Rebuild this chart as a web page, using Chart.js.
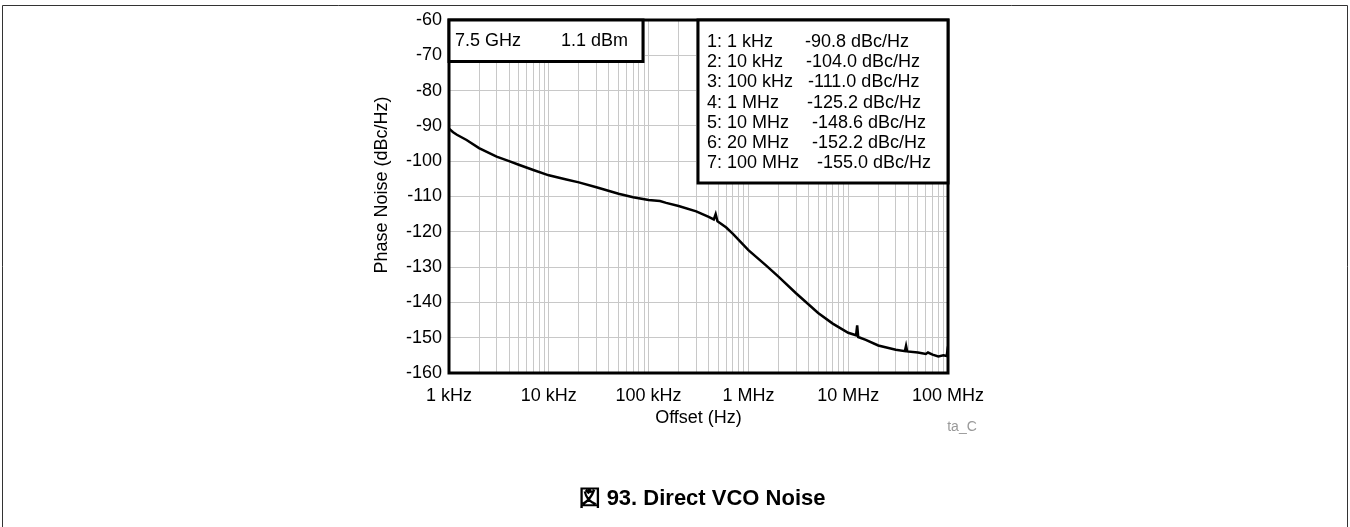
<!DOCTYPE html>
<html>
<head>
<meta charset="utf-8">
<script src="https://cdn.jsdelivr.net/npm/chart.js@4"></script>
<style>
  html, body { margin: 0; padding: 0; background: #fff; }
  canvas { display: block; }
</style>
</head>
<body>
<canvas id="noiseChart" width="1350" height="527"></canvas>
<script>
// offset frequency (Hz) and phase noise (dBc/Hz)
const offsetHz = [
    1000, 1100, 1200, 1500, 2000, 3000, 4000, 5000, 7000, 10000,
    15000, 20000, 30000, 50000, 70000, 100000, 130000, 150000, 200000, 300000,
    400000, 450000, 470000, 490000, 600000, 700000, 1000000, 1500000, 2000000, 3000000,
    5000000, 7000000, 10000000, 12000000, 12300000, 12600000, 15000000, 20000000, 30000000, 37000000,
    38000000, 39000000, 50000000, 60000000, 63000000, 70000000, 80000000, 90000000, 97000000, 100000000
];
const phaseNoise = [
    -90.8, -91.8, -92.5, -94.0, -96.3, -98.7, -100.0, -101.0, -102.5, -104.0,
    -105.2, -106.0, -107.4, -109.2, -110.2, -111.0, -111.3, -111.8, -112.7, -114.2,
    -115.8, -116.5, -115.0, -117.0, -118.8, -120.6, -125.2, -129.5, -132.7, -137.4,
    -143.0, -146.0, -148.6, -149.3, -146.5, -149.8, -150.6, -152.2, -153.4, -153.8,
    -152.3, -153.9, -154.2, -154.6, -154.2, -154.8, -155.3, -155.0, -155.2, -152.5
];

// axis ticks
const xTickValues = [1e3, 1e4, 1e5, 1e6, 1e7, 1e8];
const xTickLabels = ["1 kHz", "10 kHz", "100 kHz", "1 MHz", "10 MHz", "100 MHz"];
const yMin = -160, yMax = -60, yStep = 10;

// text boxes
const carrierInfo = ["7.5 GHz", "1.1 dBm"];
const markerNames = ["1: 1 kHz", "2: 10 kHz", "3: 100 kHz", "4: 1 MHz", "5: 10 MHz", "6: 20 MHz", "7: 100 MHz"];
const markerValues = ["-90.8 dBc/Hz", "-104.0 dBc/Hz", "-111.0 dBc/Hz", "-125.2 dBc/Hz", "-148.6 dBc/Hz", "-152.2 dBc/Hz", "-155.0 dBc/Hz"];
const markerValueX = [805, 806, 808, 807, 812, 812, 817];

const FONT = "Arial, 'Liberation Sans', sans-serif";

const points = offsetHz.map((f, i) => ({ x: f, y: phaseNoise[i] }));

const decorPlugin = {
    id: "decor",
    beforeDraw(chart) {
        const ctx = chart.ctx;
        ctx.save();
        ctx.fillStyle = "#fff";
        ctx.fillRect(0, 0, chart.width, chart.height);
        ctx.restore();
    },
    afterDatasetsDraw(chart) {
        const ctx = chart.ctx;
        const a = chart.chartArea;
        ctx.save();

        // plot frame
        ctx.strokeStyle = "#000";
        ctx.lineWidth = 3;
        ctx.strokeRect(a.left, a.top, a.right - a.left, a.bottom - a.top);

        // carrier box
        ctx.fillStyle = "#fff";
        ctx.fillRect(a.left, a.top, 194, 41.5);
        ctx.strokeRect(a.left, a.top, 194, 41.5);
        ctx.fillStyle = "#000";
        ctx.font = "18px " + FONT;
        ctx.textBaseline = "middle";
        ctx.textAlign = "left";
        ctx.fillText(carrierInfo[0], a.left + 6, a.top + 21);
        ctx.fillText(carrierInfo[1], 561, a.top + 21);

        // marker box
        const bx = 698;
        ctx.fillStyle = "#fff";
        ctx.fillRect(bx, a.top, a.right - bx, 163);
        ctx.strokeRect(bx, a.top, a.right - bx, 163);
        ctx.fillStyle = "#000";
        for (let i = 0; i < markerNames.length; i++) {
            const y = a.top + 22 + i * 20.2;
            ctx.fillText(markerNames[i], bx + 9, y);
            ctx.fillText(markerValues[i], markerValueX[i], y);
        }

        // axis titles
        ctx.textAlign = "center";
        ctx.fillText("Offset (Hz)", (a.left + a.right) / 2, 418);
        ctx.save();
        ctx.translate(382, 185);
        ctx.rotate(-Math.PI / 2);
        ctx.fillText("Phase Noise (dBc/Hz)", 0, 0);
        ctx.restore();

        ctx.fillStyle = "#999";
        ctx.font = "14px " + FONT;
        ctx.fillText("ta_C", 962, 427);

        // caption
        ctx.fillStyle = "#000";
        ctx.font = "bold 22px " + FONT;
        ctx.fillText("図 93. Direct VCO Noise", 702, 499);

        // outer frame (top, left, right)
        ctx.strokeStyle = "#333";
        ctx.lineWidth = 1;
        ctx.beginPath();
        ctx.moveTo(2.5, chart.height);
        ctx.lineTo(2.5, 5.5);
        ctx.lineTo(1347.5, 5.5);
        ctx.lineTo(1347.5, chart.height);
        ctx.stroke();
        ctx.restore();
    }
};

new Chart(document.getElementById("noiseChart"), {
    type: "line",
    data: {
        datasets: [{
            data: points,
            borderColor: "#000",
            borderWidth: 2.5,
            pointRadius: 0,
            tension: 0,
            fill: false
        }]
    },
    options: {
        responsive: false,
        animation: false,
        layout: { padding: { left: 389, right: 402, top: 20, bottom: 114 } },
        plugins: { legend: { display: false }, tooltip: { enabled: false } },
        scales: {
            x: {
                type: "logarithmic",
                min: 1e3,
                max: 1e8,
                border: { display: false },
                grid: { color: "#c8c8c8", lineWidth: 1, drawTicks: false },
                afterBuildTicks(scale) {
                    const ticks = [];
                    for (let d = 0; d < xTickValues.length; d++) {
                        for (let m = 1; m <= 9; m++) {
                            const v = xTickValues[d] * m;
                            if (v <= 1e8) ticks.push({ value: v });
                        }
                    }
                    scale.ticks = ticks;
                },
                afterFit(scale) { scale.height = 40; },
                ticks: {
                    autoSkip: false,
                    maxRotation: 0,
                    padding: 12,
                    color: "#000",
                    font: { family: FONT, size: 18 },
                    callback(value) {
                        const i = xTickValues.indexOf(value);
                        return i >= 0 ? xTickLabels[i] : "";
                    }
                }
            },
            y: {
                min: yMin,
                max: yMax,
                border: { display: false },
                grid: { color: "#c8c8c8", lineWidth: 1, drawTicks: false },
                afterFit(scale) { scale.width = 60; },
                ticks: {
                    stepSize: yStep,
                    padding: 7,
                    color: "#000",
                    font: { family: FONT, size: 18 }
                }
            }
        }
    },
    plugins: [decorPlugin]
});
</script>
</body>
</html>
